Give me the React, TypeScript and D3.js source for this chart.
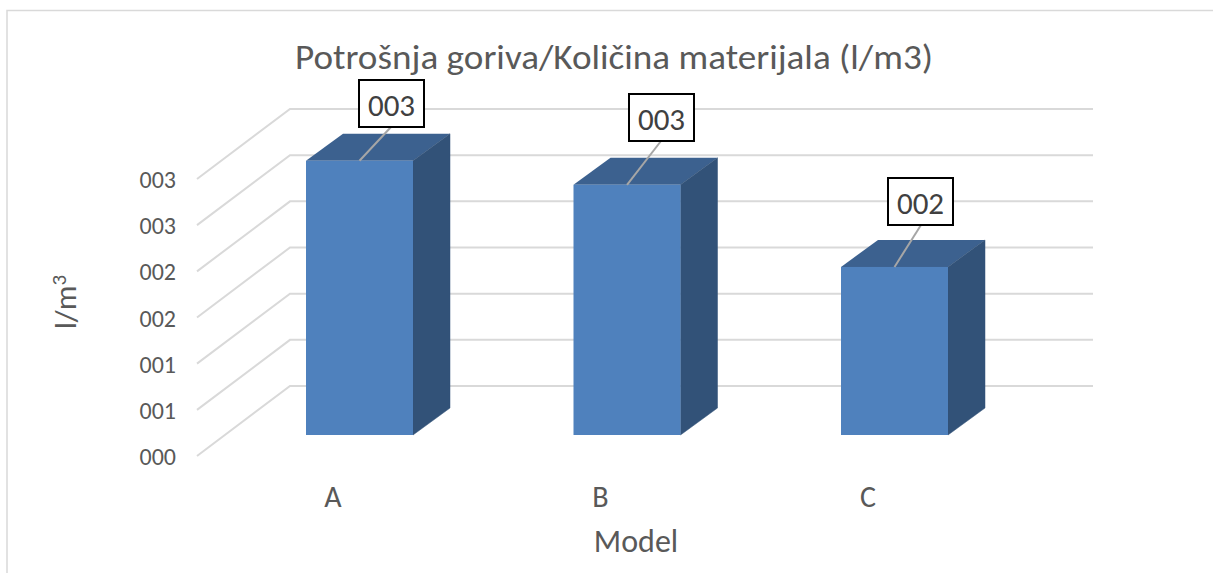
import React from 'react';
import * as d3 from 'd3';

const models = ['A', 'B', 'C'];
const fuelUse = [2.97, 2.71, 1.82];
const barLabels = ['003', '003', '002'];
const tickValues = [0, 0.5, 1, 1.5, 2, 2.5, 3];
const tickLabels = ['000', '001', '001', '002', '002', '003', '003'];

const FONT = "Carlito, Calibri, 'Open Sans', 'Noto Sans', sans-serif";
const TEXT = '#595959';
const GRID = '#d9d9d9';

// oblique 3d offsets
const wallDx = 93;
const wallDy = 70;
const barDx = 37;
const barDy = 27;

export default function App() {
  const yBack = d3.scaleLinear().domain([0, 3]).range([386, 109]);
  const yFront = d3.scaleLinear().domain([0, 3]).range([435, 158]);
  const x = d3.scaleBand().domain(models).range([199, 1055]).paddingInner(0.6).paddingOuter(0.4);
  const labelBoxes = [
    { x: 359, y: 80, w: 65, h: 47, lx: 391, ly: 127 },
    { x: 629, y: 94, w: 65, h: 47, lx: 661, ly: 141 },
    { x: 888, y: 178, w: 65, h: 47, lx: 921, ly: 225 },
  ];

  return (
    <svg width={1213} height={573} style={{ position: 'fixed', left: 0, top: 0, background: '#fff' }} fontFamily={FONT}>
      <path d="M7,573V10.5H1213" fill="none" stroke={GRID} strokeWidth={1.5} />

      <text x={295} y={69} fontSize={34} fill={TEXT} textLength={638} lengthAdjust="spacingAndGlyphs">
        Potrošnja goriva/Količina materijala (l/m3)
      </text>

      {tickValues.map((t, i) => (
        <g key={i}>
          <path
            d={d3.line()([
              [290 - wallDx, yBack(t) + wallDy],
              [290, yBack(t)],
              [1093, yBack(t)],
            ]) as string}
            fill="none"
            stroke={GRID}
            strokeWidth={2}
          />
          <text x={176} y={yBack(t) + wallDy + 9} fontSize={24} fill={TEXT} textAnchor="end">
            {tickLabels[i]}
          </text>
        </g>
      ))}

      {models.map((m, i) => {
        const left = x(m) as number;
        const w = x.bandwidth();
        const top = yFront(fuelUse[i]);
        const bottom = yFront(0);
        const box = labelBoxes[i];
        return (
          <g key={m}>
            <polygon
              points={`${left},${top} ${left + barDx},${top - barDy} ${left + w + barDx},${top - barDy} ${left + w},${top}`}
              fill="#3c618f"
            />
            <polygon
              points={`${left + w},${top} ${left + w + barDx},${top - barDy} ${left + w + barDx},${bottom - barDy} ${left + w},${bottom}`}
              fill="#325278"
              stroke="#325278"
              strokeWidth={0.5}
            />
            <rect x={left} y={top} width={w} height={bottom - top} fill="#4f81bd" />
            <line x1={left + w / 2} y1={top} x2={box.lx} y2={box.ly} stroke="#a6a6a6" strokeWidth={2} />
            <rect x={box.x} y={box.y} width={box.w} height={box.h} fill="#fff" stroke="#000" strokeWidth={2} />
            <text x={box.x + box.w / 2} y={box.y + 36} textAnchor="middle" fontSize={31} fill="#404040">
              {barLabels[i]}
            </text>
            <text x={left + 27} y={507} textAnchor="middle" fontSize={30} fill={TEXT}>
              {m}
            </text>
          </g>
        );
      })}

      <text x={636} y={552} textAnchor="middle" fontSize={32} fill={TEXT}>
        Model
      </text>
      <text transform="translate(76,302) rotate(-90)" textAnchor="middle" fontSize={31} fill={TEXT}>
        l/m<tspan dy={-10} fontSize={21}>3</tspan>
      </text>
    </svg>
  );
}
